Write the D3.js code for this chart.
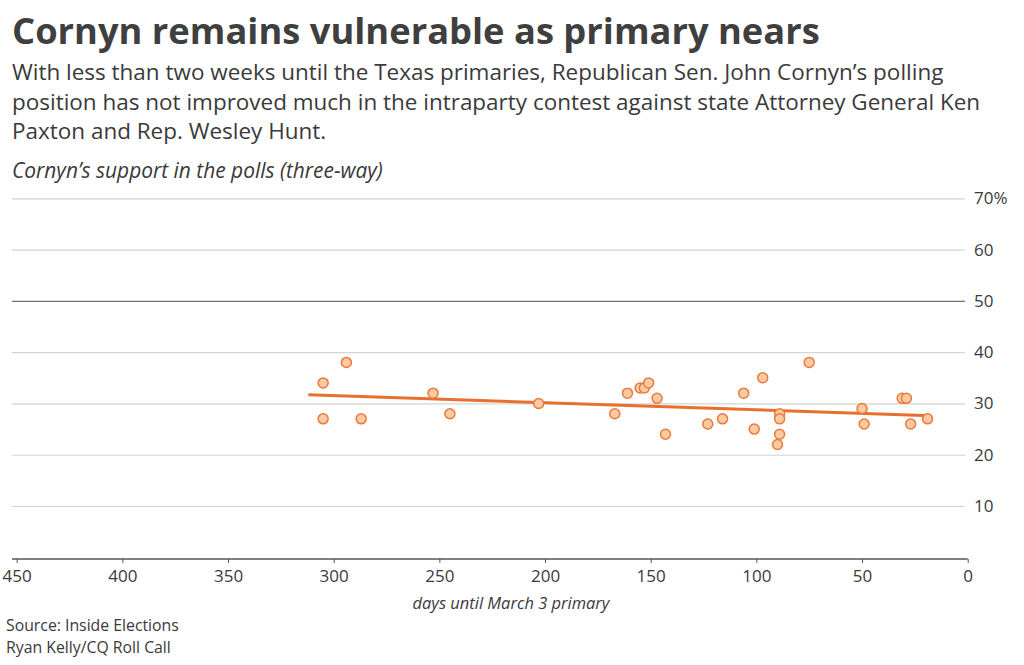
<!DOCTYPE html>
<html lang="en">
	<head>
		<meta charset="UTF-8" />
		<title>Cornyn remains vulnerable as primary nears</title>
		<style>
			body { margin: 0; background: #fff; }
			svg text { fill: #3a3a3a; font-family: 'Open Sans', Lato, sans-serif; }
		</style>
	</head>
	<body>
		<div id="chart"></div>
		<script src="https://cdn.jsdelivr.net/npm/d3@7/dist/d3.min.js"></script>
		<script>
			// polls: days until the March 3 primary, Cornyn's share (%)
			var pollDays = [305, 294, 305, 287, 253, 245, 203, 167, 161, 155, 153, 151, 147, 143, 123, 116, 106, 101, 97, 89, 89, 89, 90, 75, 50, 49, 31, 29, 27, 19];
			var pollSupport = [34, 38, 27, 27, 32, 28, 30, 28, 32, 33, 33, 34, 31, 24, 26, 27, 32, 25, 35, 28, 27, 24, 22, 38, 29, 26, 31, 31, 26, 27];

			// trend line at its two ends
			var trendDays = [312, 17.5];
			var trendSupport = [31.7, 27.6];

			var xTicks = [450, 400, 350, 300, 250, 200, 150, 100, 50, 0];
			var yTicks = [10, 20, 30, 40, 50, 60, 70];

			var subtitle = [
				'With less than two weeks until the Texas primaries, Republican Sen. John Cornyn\u2019s polling',
				'position has not improved much in the intraparty contest against state Attorney General Ken',
				'Paxton and Rep. Wesley Hunt.'
			];

			var width = 1024;
			var height = 665;

			var svg = d3
				.select('#chart')
				.append('svg')
				.attr('width', width)
				.attr('height', height);

			var x = d3.scaleLinear().domain([450, 0]).range([16.7, 967.7]);
			var y = d3.scaleLinear().domain([0, 70]).range([557.3, 198.3]);

			// scale the font so a line ends where it does in the original
			function fit(sel, target) {
				var w = sel.node().getComputedTextLength();
				var size = parseFloat(sel.style('font-size'));
				var s = (size * target) / w;
				sel.style('font-size', s + 'px');
				return s;
			}

			// titles
			var title = svg.append('text')
				.attr('x', 12)
				.attr('y', 44)
				.style('font-size', '38px')
				.style('font-weight', 700)
				.style('fill', '#3f3f3f')
				.text('Cornyn remains vulnerable as primary nears');
			fit(title, 808);

			var sub = svg.selectAll('.sub')
				.data(subtitle)
				.enter()
				.append('text')
				.attr('class', 'sub')
				.attr('x', 12)
				.attr('y', function (d, i) {
					return 80 + i * 29.5;
				})
				.style('font-size', '21px')
				.text(function (d) {
					return d;
				});
			var subSize = fit(d3.select(sub.nodes()[0]), 932);
			sub.style('font-size', subSize + 'px');

			var label = svg.append('text')
				.attr('x', 12)
				.attr('y', 178)
				.style('font-size', '17px')
				.style('font-style', 'italic')
				.text('Cornyn\u2019s support in the polls (three-way)');
			fit(label, 371);

			// y gridlines + labels on the right
			var yAxis = svg
				.append('g')
				.attr('transform', 'translate(965,0)')
				.call(
					d3.axisRight(y)
						.tickValues(yTicks)
						.tickSize(-953)
						.tickPadding(9)
						.tickFormat(function (d) {
							return d === 70 ? d + '%' : d;
						})
				);
			yAxis.select('.domain').remove();
			yAxis.selectAll('line')
				.attr('stroke', function (d) {
					return d === 50 ? '#6e6e6e' : '#d4d4d4';
				})
				.attr('stroke-width', function (d) {
					return d === 50 ? 1.4 : 1.2;
				});
			yAxis.selectAll('text')
				.style('font-family', "'Open Sans', sans-serif")
				.style('font-size', '17px')
				.style('fill', '#3a3a3a');

			// x axis
			var xAxis = svg
				.append('g')
				.attr('transform', 'translate(0,559)')
				.call(d3.axisBottom(x).tickValues(xTicks).tickSize(4).tickPadding(7));
			xAxis.select('.domain').remove();
			xAxis.append('line')
				.attr('x1', 12)
				.attr('x2', x(0))
				.attr('stroke', '#555')
				.attr('stroke-width', 1.6);
			xAxis.selectAll('.tick line').attr('stroke', '#555');
			xAxis.selectAll('text')
				.style('font-family', "'Open Sans', sans-serif")
				.style('font-size', '17px')
				.style('fill', '#3a3a3a');

			var xTitle = svg.append('text')
				.attr('x', 511)
				.attr('y', 609)
				.attr('text-anchor', 'middle')
				.style('font-size', '15px')
				.style('font-style', 'italic')
				.text('days until March 3 primary');
			fit(xTitle, 197);

			var source = svg.append('text')
				.attr('x', 6)
				.attr('y', 631)
				.style('font-size', '15px')
				.text('Source: Inside Elections');
			var srcSize = fit(source, 173);
			svg.append('text')
				.attr('x', 6)
				.attr('y', 653)
				.style('font-size', srcSize + 'px')
				.text('Ryan Kelly/CQ Roll Call');

			// trend line
			var line = d3
				.line()
				.x(function (d) {
					return x(d[0]);
				})
				.y(function (d) {
					return y(d[1]);
				});
			svg.append('path')
				.datum(d3.zip(trendDays, trendSupport))
				.attr('d', line)
				.attr('fill', 'none')
				.attr('stroke', '#e8702c')
				.attr('stroke-width', 3);

			// poll dots
			svg.selectAll('circle')
				.data(d3.zip(pollDays, pollSupport))
				.enter()
				.append('circle')
				.attr('cx', function (d) {
					return x(d[0]);
				})
				.attr('cy', function (d) {
					return y(d[1]);
				})
				.attr('r', 5)
				.attr('fill', '#fbc9a2')
				.attr('stroke', '#ea7a3c')
				.attr('stroke-width', 1.5);
		</script>
	</body>
</html>
